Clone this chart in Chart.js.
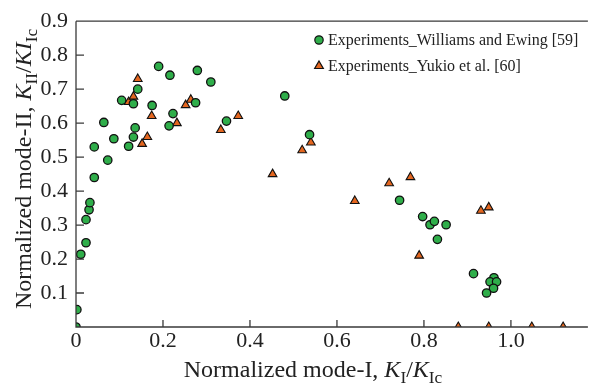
<!DOCTYPE html>
<html>
<head>
<meta charset="utf-8">
<script src="https://cdn.jsdelivr.net/npm/chart.js@4.4.0/dist/chart.umd.min.js"></script>
<style>
  html, body { margin: 0; padding: 0; background: #fff; }
  #wrap { width: 594px; height: 390px; position: relative; }
</style>
</head>
<body>
<div id="wrap"><canvas id="chart"></canvas></div>
<script>
// Williams and Ewing [59]
const williamsX = [0.000, 0.002, 0.011, 0.023, 0.023, 0.030, 0.032, 0.042, 0.042, 0.064, 0.073, 0.087,
  0.105, 0.121, 0.132, 0.132, 0.136, 0.142, 0.175, 0.190, 0.214, 0.216, 0.223, 0.275, 0.279, 0.310,
  0.346, 0.480, 0.537, 0.744, 0.797, 0.814, 0.824, 0.851, 0.831, 0.914, 0.961, 0.952, 0.967, 0.960, 0.944];
const williamsY = [0.000, 0.051, 0.214, 0.248, 0.316, 0.345, 0.366, 0.440, 0.530, 0.602, 0.491, 0.554,
  0.667, 0.532, 0.559, 0.657, 0.586, 0.700, 0.652, 0.767, 0.592, 0.741, 0.628, 0.660, 0.755, 0.721,
  0.606, 0.680, 0.566, 0.373, 0.325, 0.301, 0.311, 0.301, 0.258, 0.157, 0.145, 0.133, 0.133, 0.114, 0.100];

// Yukio et al. [60]
const yukioX = [0.121, 0.132, 0.142, 0.152, 0.164, 0.174, 0.232, 0.252, 0.264, 0.333, 0.373, 0.452,
  0.520, 0.540, 0.641, 0.720, 0.769, 0.789, 0.931, 0.949, 0.879, 0.949, 1.048, 1.120];
const yukioY = [0.662, 0.678, 0.730, 0.539, 0.559, 0.621, 0.600, 0.653, 0.669, 0.580, 0.621, 0.450,
  0.520, 0.543, 0.371, 0.423, 0.441, 0.210, 0.342, 0.352, 0.000, 0.000, 0.000, 0.000];

const seriesNames = ['Experiments_Williams and Ewing [59]', 'Experiments_Yukio et al. [60]'];

const xTicks = [0, 0.2, 0.4, 0.6, 0.8, 1.0];
const xTickLabels = ['0', '0.2', '0.4', '0.6', '0.8', '1.0'];
const yTicks = [0, 0.1, 0.2, 0.3, 0.4, 0.5, 0.6, 0.7, 0.8, 0.9];
const yTickLabels = ['', '0.1', '0.2', '0.3', '0.4', '0.5', '0.6', '0.7', '0.8', '0.9'];

const SERIF = '"Liberation Serif", "Times New Roman", serif';
const AXIS = '#3a3a3a';
const GREEN = '#2fae4a';
const ORANGE = '#e4661f';

function toPoints(xs, ys) {
    return xs.map((x, i) => ({ x: x, y: ys[i] }));
}

// titel met subscripts tekenen
function drawRich(ctx, runs, size) {
    let total = 0;
    runs.forEach(r => {
        ctx.font = (r.italic ? 'italic ' : '') + (r.sub ? size * 0.72 : size) + 'px ' + SERIF;
        r.w = ctx.measureText(r.t).width;
        total += r.w;
    });
    let x = -total / 2;
    runs.forEach(r => {
        ctx.font = (r.italic ? 'italic ' : '') + (r.sub ? size * 0.72 : size) + 'px ' + SERIF;
        ctx.fillText(r.t, x, r.sub ? size * 0.26 : 0);
        x += r.w;
    });
}

const framePlugin = {
    id: 'frame',
    afterDraw(chart) {
        const ctx = chart.ctx;
        const a = chart.chartArea;
        const xs = chart.scales.x, ys = chart.scales.y;
        ctx.save();
        ctx.strokeStyle = AXIS;
        ctx.lineWidth = 1.3;
        ctx.beginPath();
        // assen en bovenrand
        ctx.moveTo(a.left, a.top); ctx.lineTo(a.right, a.top);
        ctx.moveTo(a.left, a.top); ctx.lineTo(a.left, a.bottom); ctx.lineTo(a.right, a.bottom);
        // ticks naar binnen
        xTicks.forEach(v => {
            if (v === 0) return;
            const px = xs.getPixelForValue(v);
            ctx.moveTo(px, a.bottom); ctx.lineTo(px, a.bottom - 7);
        });
        yTicks.forEach(v => {
            if (v === 0) return;
            const py = ys.getPixelForValue(v);
            ctx.moveTo(a.left, py); ctx.lineTo(a.left + 8, py);
        });
        ctx.stroke();

        // legenda
        ctx.textBaseline = 'middle';
        ctx.fillStyle = '#222';
        ctx.font = '16px ' + SERIF;
        chart.data.datasets.forEach((ds, i) => {
            const ly = 40 + i * 26;
            ctx.save();
            ctx.fillStyle = ds.backgroundColor;
            ctx.strokeStyle = '#111';
            ctx.lineWidth = 1.2;
            Chart.helpers.drawPoint(ctx, { pointStyle: ds.pointStyle, radius: ds.pointRadius, borderWidth: 1.2 }, 319, ly);
            ctx.restore();
            ctx.fillText(seriesNames[i], 328, ly + 1);
        });

        // as-titels
        ctx.fillStyle = '#222';
        ctx.textBaseline = 'alphabetic';
        ctx.save();
        ctx.translate(313, 377);
        drawRich(ctx, [
            { t: 'Normalized mode-I, ' }, { t: 'K', italic: true }, { t: 'I', sub: true },
            { t: '/' }, { t: 'K', italic: true }, { t: 'Ic', sub: true }
        ], 24);
        ctx.restore();
        ctx.save();
        ctx.translate(31, 169);
        ctx.rotate(-Math.PI / 2);
        drawRich(ctx, [
            { t: 'Normalized mode-II, ' }, { t: 'K', italic: true }, { t: 'II', sub: true },
            { t: '/' }, { t: 'KI', italic: true }, { t: 'Ic', sub: true }
        ], 24);
        ctx.restore();
        ctx.restore();
    }
};

new Chart(document.getElementById('chart'), {
    type: 'scatter',
    data: {
        datasets: [{
            label: seriesNames[0],
            data: toPoints(williamsX, williamsY),
            pointStyle: 'circle',
            pointRadius: 4.2,
            backgroundColor: GREEN,
            borderColor: '#111',
            borderWidth: 1.3
        }, {
            label: seriesNames[1],
            data: toPoints(yukioX, yukioY),
            pointStyle: 'triangle',
            pointRadius: 5,
            backgroundColor: ORANGE,
            borderColor: '#111',
            borderWidth: 1.1
        }]
    },
    options: {
        responsive: true,
        maintainAspectRatio: false,
        animation: false,
        layout: { padding: { top: 16, right: 0, left: 0, bottom: 0 } },
        plugins: { legend: { display: false }, tooltip: { enabled: false } },
        scales: {
            x: {
                type: 'linear',
                min: 0,
                max: 1.177,
                afterBuildTicks: (scale) => { scale.ticks = xTicks.map(v => ({ value: v })); },
                afterFit: (scale) => { scale.height = 63; },
                grid: { display: false, tickLength: 0 },
                border: { display: false },
                ticks: {
                    padding: 1,
                    color: '#222',
                    font: { family: SERIF, size: 22 },
                    maxRotation: 0,
                    callback: (v) => xTickLabels[xTicks.indexOf(Math.round(v * 10) / 10)]
                }
            },
            y: {
                type: 'linear',
                min: 0,
                max: 0.9,
                afterBuildTicks: (scale) => { scale.ticks = yTicks.map(v => ({ value: v })); },
                afterFit: (scale) => { scale.width = 76; },
                grid: { display: false, tickLength: 0 },
                border: { display: false },
                ticks: {
                    padding: 8,
                    color: '#222',
                    font: { family: SERIF, size: 22 },
                    callback: (v) => yTickLabels[yTicks.indexOf(Math.round(v * 10) / 10)]
                }
            }
        }
    },
    plugins: [framePlugin]
});
</script>
</body>
</html>
